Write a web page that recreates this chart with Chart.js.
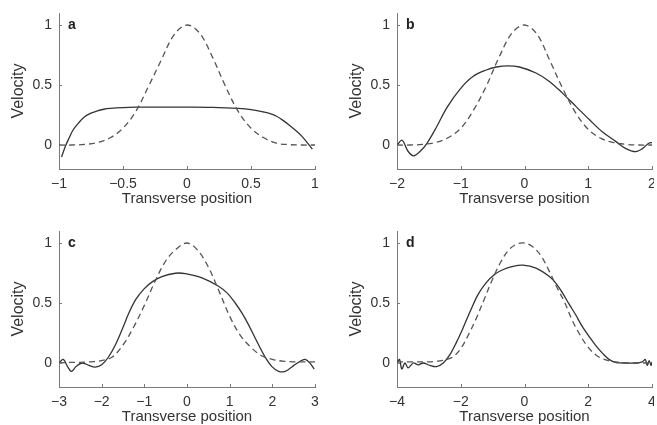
<!DOCTYPE html>
<html>
<head>
<meta charset="utf-8">
<script src="https://cdn.jsdelivr.net/npm/chart.js@4.4.0/dist/chart.umd.min.js"></script>
<style>
  html, body { margin: 0; padding: 0; background: #fff; overflow: hidden; width: 657px; height: 425px; }
  body { position: relative; }
  canvas { position: absolute; }
</style>
</head>
<body>
<canvas id="chartA" width="328" height="208" style="left:0;top:0"></canvas>
<canvas id="chartB" width="316" height="208" style="left:338px;top:0"></canvas>
<canvas id="chartC" width="328" height="208" style="left:0;top:218px"></canvas>
<canvas id="chartD" width="316" height="208" style="left:338px;top:218px"></canvas>
<script>
// ---- data ----
const yTickValues = [0, 0.5, 1];

// panel a
const aTicks = [-1, -0.5, 0, 0.5, 1];
const aDashX = [-1, -0.9, -0.8, -0.7, -0.6, -0.5, -0.4, -0.3, -0.2, -0.1, 0, 0.1, 0.2, 0.3, 0.4, 0.5, 0.6, 0.7, 0.8, 0.9, 1];
const aDashY = [0, 0, 0.005, 0.02, 0.06, 0.14, 0.28, 0.49, 0.71, 0.92, 1.0, 0.93, 0.73, 0.49, 0.28, 0.14, 0.06, 0.015, 0.003, 0, 0];
const aSolidX = [-0.98, -0.95, -0.92, -0.89, -0.85, -0.8, -0.75, -0.7, -0.65, -0.6, -0.5, -0.4, -0.2, 0, 0.2, 0.4, 0.5, 0.6, 0.65, 0.7, 0.75, 0.8, 0.85, 0.9, 0.95, 0.98];
const aSolidY = [-0.10, -0.01, 0.06, 0.125, 0.18, 0.235, 0.265, 0.285, 0.298, 0.305, 0.312, 0.315, 0.316, 0.316, 0.314, 0.305, 0.295, 0.275, 0.262, 0.24, 0.205, 0.165, 0.12, 0.07, 0.005, -0.035];

// panel b
const bTicks = [-2, -1, 0, 1, 2];
const bDashX = [-2, -1.8, -1.6, -1.4, -1.2, -1.0, -0.8, -0.6, -0.4, -0.2, 0, 0.2, 0.4, 0.6, 0.8, 1.0, 1.2, 1.4, 1.6, 1.8, 2];
const bDashY = [0, 0, 0.005, 0.02, 0.06, 0.14, 0.29, 0.49, 0.73, 0.93, 1.0, 0.92, 0.70, 0.47, 0.27, 0.13, 0.055, 0.02, 0.005, 0, 0];
const bSolidX = [-2, -1.92, -1.83, -1.74, -1.64, -1.53, -1.38, -1.22, -1.02, -0.81, -0.6, -0.44, -0.26, -0.08, 0.18, 0.39, 0.6, 0.81, 1.02, 1.22, 1.43, 1.59, 1.74, 1.85, 1.95, 2.0];
const bSolidY = [0, 0.04, -0.05, -0.09, -0.055, 0.014, 0.15, 0.31, 0.46, 0.57, 0.625, 0.65, 0.66, 0.65, 0.60, 0.53, 0.43, 0.32, 0.21, 0.11, 0.03, -0.03, -0.055, -0.03, 0.015, 0.02];

// panel c
const cTicks = [-3, -2, -1, 0, 1, 2, 3];
const cDashX = [-3, -2.75, -2.5, -2.25, -2, -1.75, -1.5, -1.25, -1, -0.75, -0.5, -0.25, 0, 0.25, 0.5, 0.75, 1, 1.25, 1.5, 1.75, 2, 2.25, 2.5, 2.75, 3];
const cDashY = [0, 0.005, 0.005, 0.01, 0.02, 0.05, 0.15, 0.30, 0.48, 0.68, 0.85, 0.95, 1.0, 0.94, 0.80, 0.60, 0.39, 0.23, 0.13, 0.06, 0.03, 0.015, 0.01, 0.01, 0.01];
const cSolidX = [-3, -2.9, -2.8, -2.71, -2.6, -2.46, -2.3, -2.15, -2.0, -1.84, -1.68, -1.52, -1.37, -1.2, -1.0, -0.8, -0.59, -0.27, -0.04, 0.35, 0.74, 0.95, 1.13, 1.3, 1.44, 1.56, 1.68, 1.83, 1.99, 2.15, 2.3, 2.45, 2.65, 2.77, 2.88, 2.98];
const cSolidY = [0, 0.03, -0.03, -0.07, -0.03, 0, -0.02, -0.035, -0.015, 0.05, 0.15, 0.28, 0.41, 0.53, 0.62, 0.68, 0.72, 0.748, 0.745, 0.71, 0.64, 0.58, 0.50, 0.41, 0.32, 0.235, 0.15, 0.05, -0.03, -0.07, -0.07, -0.035, 0.015, 0.03, 0.0, -0.05];

// panel d
const dTicks = [-4, -2, 0, 2, 4];
const dDashX = [-4, -3.75, -3.5, -3.25, -3, -2.75, -2.5, -2.25, -2, -1.75, -1.5, -1.25, -1, -0.75, -0.5, -0.25, 0, 0.25, 0.5, 0.75, 1, 1.25, 1.5, 1.75, 2, 2.25, 2.5, 2.75, 3, 3.25, 3.5, 3.75, 4];
const dDashY = [0.01, 0.01, 0.01, 0.01, 0.01, 0.015, 0.025, 0.05, 0.12, 0.24, 0.38, 0.54, 0.70, 0.84, 0.94, 0.99, 1.0, 0.97, 0.90, 0.78, 0.64, 0.51, 0.355, 0.23, 0.13, 0.065, 0.03, 0.012, 0.005, 0, 0, 0, 0];
const dSolidX = [-4, -3.92, -3.85, -3.75, -3.65, -3.49, -3.33, -3.18, -2.97, -2.76, -2.55, -2.34, -2.14, -1.93, -1.72, -1.46, -1.2, -0.95, -0.7, -0.36, -0.05, 0.36, 0.78, 1.0, 1.2, 1.4, 1.61, 1.8, 2.03, 2.25, 2.45, 2.65, 2.85, 3.07, 3.5, 3.7, 3.79, 3.85, 3.91, 3.97, 4.0];
const dSolidY = [0, 0.03, -0.05, 0.0, -0.04, 0.0, -0.015, 0.0, -0.02, -0.03, 0.0, 0.07, 0.17, 0.29, 0.42, 0.57, 0.67, 0.735, 0.775, 0.805, 0.815, 0.79, 0.72, 0.66, 0.58, 0.49, 0.40, 0.31, 0.22, 0.14, 0.08, 0.03, 0.005, 0.0, 0.0, 0.01, 0.03, -0.02, 0.02, -0.02, 0.01];

// ---- drawing ----
const AXIS = '#7a7a7a';
const TEXT = '#333333';
const FONT = '"Liberation Sans", Arial, sans-serif';

function pts(xs, ys) {
  return xs.map((x, i) => ({ x: x, y: ys[i] }));
}

function fmt(v) {
  return String(v).replace('-', '\u2212');
}

// MATLAB style inward ticks + panel letter
const panelDecor = {
  id: 'panelDecor',
  afterDraw(chart, args, opts) {
    const ctx = chart.ctx, a = chart.chartArea;
    const xs = chart.scales.x, ys = chart.scales.y;
    ctx.save();
    ctx.strokeStyle = AXIS;
    ctx.lineWidth = 1;
    ctx.beginPath();
    xs.ticks.forEach(t => {
      const px = Math.round(xs.getPixelForValue(t.value)) + 0.5;
      ctx.moveTo(px, a.bottom);
      ctx.lineTo(px, a.bottom - 3);
    });
    ys.ticks.forEach(t => {
      const py = Math.round(ys.getPixelForValue(t.value)) + 0.5;
      ctx.moveTo(a.left, py);
      ctx.lineTo(a.left + 3, py);
    });
    ctx.stroke();
    ctx.fillStyle = '#222';
    ctx.font = 'bold 14px ' + FONT;
    ctx.textBaseline = 'alphabetic';
    ctx.fillText(opts.letter, a.left + 9, a.top + 16);
    ctx.restore();
  }
};

function makeChart(id, letter, xTicks, dashX, dashY, solidX, solidY, padRight) {
  const ctx = document.getElementById(id).getContext('2d');
  return new Chart(ctx, {
    type: 'line',
    data: {
      datasets: [{
        data: pts(dashX, dashY),
        borderColor: '#555555',
        borderWidth: 1.3,
        borderDash: [6, 4],
        pointRadius: 0,
        tension: 0.35
      }, {
        data: pts(solidX, solidY),
        borderColor: '#333333',
        borderWidth: 1.3,
        pointRadius: 0,
        tension: 0.35
      }]
    },
    options: {
      responsive: false,
      animation: false,
      devicePixelRatio: 1,
      layout: { padding: { top: 13, right: padRight, left: 0, bottom: 0 } },
      plugins: {
        legend: { display: false },
        tooltip: { enabled: false },
        panelDecor: { letter: letter }
      },
      scales: {
        x: {
          type: 'linear',
          min: xTicks[0],
          max: xTicks[xTicks.length - 1],
          afterBuildTicks: s => { s.ticks = xTicks.map(v => ({ value: v })); },
          afterFit: s => { s.height = 39; s.paddingLeft = 0; s.paddingRight = 0; },
          grid: { drawOnChartArea: false, drawTicks: false, tickLength: 0 },
          border: { color: AXIS, width: 1 },
          ticks: {
            color: TEXT, padding: 7, maxRotation: 0, autoSkip: false,
            font: { family: FONT, size: 14 },
            callback: v => fmt(v)
          },
          title: {
            display: true, text: 'Transverse position', color: TEXT,
            font: { family: FONT, size: 15 }, padding: 0
          }
        },
        y: {
          min: -0.2,
          max: 1.1,
          afterBuildTicks: s => { s.ticks = yTickValues.map(v => ({ value: v })); },
          afterFit: s => { s.width = 59; s.paddingTop = 0; s.paddingBottom = 0; },
          grid: { drawOnChartArea: false, drawTicks: false, tickLength: 0 },
          border: { color: AXIS, width: 1 },
          ticks: {
            color: TEXT, padding: 7,
            font: { family: FONT, size: 14 },
            callback: v => fmt(v)
          },
          title: {
            display: true, text: 'Velocity', color: TEXT,
            font: { family: FONT, size: 16 }, padding: { top: 9, bottom: 0 }
          }
        }
      }
    },
    plugins: [panelDecor]
  });
}

makeChart('chartA', 'a', aTicks, aDashX, aDashY, aSolidX, aSolidY, 13);
makeChart('chartB', 'b', bTicks, bDashX, bDashY, bSolidX, bSolidY, 2);
makeChart('chartC', 'c', cTicks, cDashX, cDashY, cSolidX, cSolidY, 13);
makeChart('chartD', 'd', dTicks, dDashX, dDashY, dSolidX, dSolidY, 2);
</script>
</body>
</html>
